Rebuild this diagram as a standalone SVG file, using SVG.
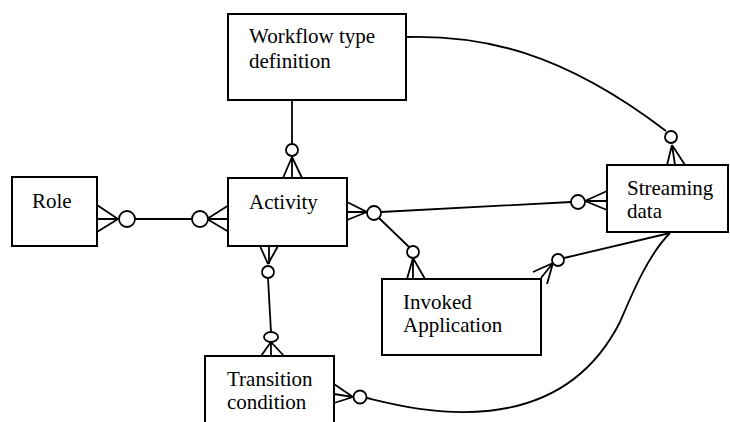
<svg xmlns="http://www.w3.org/2000/svg" width="730" height="422" viewBox="0 0 730 422">
<style>
.box{fill:#fff;stroke:#000;stroke-width:2}
text{font-family:'Liberation Serif','DejaVu Serif',serif;font-size:21px;fill:#000}
.c{fill:none;stroke:#000;stroke-width:1.8}
.o{fill:#fff;stroke:#000;stroke-width:1.8}
</style>
<g id="connectors">
<path class="c" d="M292,100 V144 M292,157 L283,178 M292,157 V178 M292,157 L302,178"/>
<circle class="o" cx="292" cy="150" r="6"/>
<path class="c" d="M97,205 L118,219 M97,219 H118 M97,232 L118,219 M135,219 H192 M207,219 L229,205 M207,219 H229 M207,219 L229,232"/>
<circle class="o" cx="127" cy="219" r="8"/>
<circle class="o" cx="200" cy="219" r="8"/>
<path class="c" d="M347,202 L367,212 M347,212 H367 M347,220 L367,212 M381,212 L571,202 M585,201 L607,191 M585,201 H607 M585,201 L607,210"/>
<circle class="o" cx="374" cy="213" r="7"/>
<circle class="o" cx="578" cy="202" r="7"/>
<path class="c" d="M379,218 L409,247 M413,258 L407,279 M413,258 V279 M413,258 L425,279"/>
<circle class="o" cx="413" cy="252" r="6"/>
<path class="c" d="M260,246 L268,264 M269,246 V264 M278,246 L268,264 M268,278 L271,332 M271,342 L261,356 M271,342 V356 M271,342 L284,356"/>
<circle class="o" cx="268" cy="272" r="6"/>
<ellipse class="o" cx="271" cy="337" rx="7" ry="5"/>
<path class="c" d="M406,37 C480,35 560,50 666,131 M672,145 L667,165 M672,145 L675,165 M672,145 L685,165"/>
<circle class="o" cx="671" cy="137" r="6"/>
<path class="c" d="M670,233 L564,258 M553,263 L533,272 M553,263 L541,278 M553,263 L547,284"/>
<circle class="o" cx="558" cy="260" r="6"/>
<path class="c" d="M334,384 L353,397 M334,394 L353,397 M334,403 L353,397 M367,398 C405,407 555,450 620,322 C632,294 648,255 670,233"/>
<circle class="o" cx="360" cy="397" r="6.5"/>
</g>
<g id="workflow">
<rect class="box" x="228" y="14" width="178" height="86"/>
<text x="249" y="43" font-family="Liberation Serif, serif">Workflow type</text>
<text x="249" y="68" font-family="Liberation Serif, serif">definition</text>
</g>
<g id="role">
<rect class="box" x="12" y="177" width="85" height="69"/>
<text x="32" y="208" font-family="Liberation Serif, serif">Role</text>
</g>
<g id="activity">
<rect class="box" x="228" y="178" width="119" height="68"/>
<text x="249" y="209" font-family="Liberation Serif, serif">Activity</text>
</g>
<g id="streaming">
<rect class="box" x="607" y="165" width="121" height="67"/>
<text x="627" y="195" font-family="Liberation Serif, serif">Streaming</text>
<text x="627" y="218" font-family="Liberation Serif, serif">data</text>
</g>
<g id="invoked">
<rect class="box" x="382" y="279" width="159" height="76"/>
<text x="403" y="309" font-family="Liberation Serif, serif">Invoked</text>
<text x="403" y="332" font-family="Liberation Serif, serif">Application</text>
</g>
<g id="transition">
<rect class="box" x="205" y="356" width="129" height="80"/>
<text x="227" y="386" font-family="Liberation Serif, serif">Transition</text>
<text x="227" y="409" font-family="Liberation Serif, serif">condition</text>
</g>
</svg>
